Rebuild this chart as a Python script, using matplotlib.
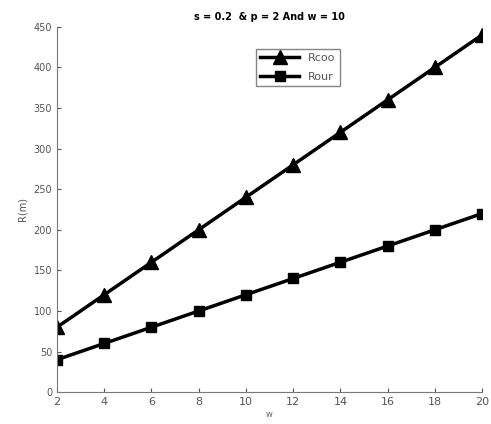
import matplotlib
matplotlib.use("Agg")
import matplotlib.pyplot as plt

# data
w = [2, 4, 6, 8, 10, 12, 14, 16, 18, 20]
r_coo = [80, 120, 160, 200, 240, 280, 320, 360, 400, 440]
r_our = [40, 60, 80, 100, 120, 140, 160, 180, 200, 220]
yticks = [0, 50, 100, 150, 200, 250, 300, 350, 400, 450]

fig = plt.figure(figsize=(4.91, 4.24), dpi=100)
ax = fig.add_axes([0.116, 0.075, 0.866, 0.862])

ax.plot(w, r_coo, color="black", linewidth=2.5, marker="^", markersize=10,
        markerfacecolor="black", label="Rcoo")
ax.plot(w, r_our, color="black", linewidth=2.5, marker="s", markersize=7.5,
        markerfacecolor="black", label="Rour")

ax.set_xlim(2, 20)
ax.set_ylim(0, 450)
ax.set_xticks(w)
ax.set_yticks(yticks)
ax.tick_params(axis="x", labelsize=8, colors="#555555", length=3, direction="in")
ax.tick_params(axis="y", labelsize=7, colors="#555555", length=3, direction="in")

for side in ["top", "right"]:
    ax.spines[side].set_visible(False)
for side in ["left", "bottom"]:
    ax.spines[side].set_color("#777777")

ax.set_title("s = 0.2  & p = 2 And w = 10", fontsize=7, fontweight="bold", pad=5)
ax.set_xlabel("w", fontsize=6, color="#666666", labelpad=2)
ax.set_ylabel("R(m)", fontsize=7, color="#555555")

leg = ax.legend(loc="upper left", bbox_to_anchor=(0.455, 0.955), fontsize=8,
                fancybox=False, edgecolor="#666666", handlelength=3.5,
                labelspacing=0.8, labelcolor="#555555")

fig.savefig("out.png", dpi=100)
